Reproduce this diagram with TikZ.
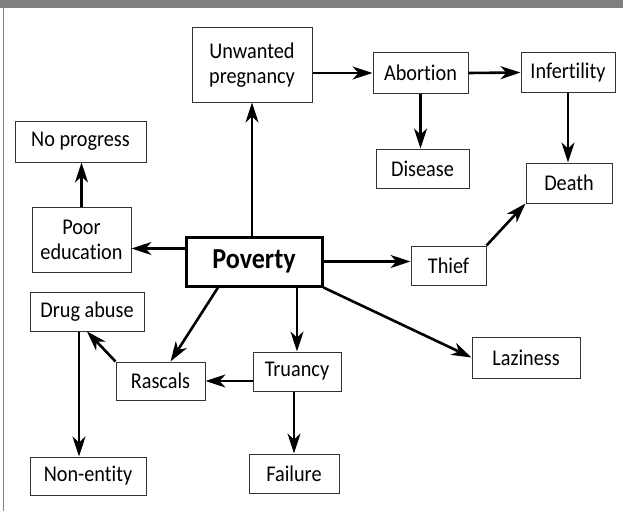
\documentclass[tikz,border=0pt]{standalone}
\usepackage{fontspec}
\setmainfont[Ligatures=NoCommon, FakeStretch=0.9]{Carlito}
\usetikzlibrary{arrows.meta}

\tikzset{
  box/.style={draw=black!80, line width=1pt, fill=white, inner sep=0pt, align=center,
    font=\fontsize{22.5}{25}\selectfont},
  arr/.style={-{Stealth[length=20pt,width=13pt,inset=6pt]}, line width=2.6pt, black}
}

\begin{document}
\begin{tikzpicture}[x=1pt,y=-1pt]
\useasboundingbox (0,0) rectangle (623,511);
\fill [black!50] (0,0) rectangle (623,8);
\draw [black!50, line width=1pt] (3,8) -- (3,511);

\node [box, minimum width=120, minimum height=74] (unwanted) at (252,65) {Unwanted\\pregnancy};
\node [box, minimum width=95, minimum height=40] (abortion) at (420.5,73) {Abortion};
\node [box, minimum width=94, minimum height=39] (infertility) at (568,72.5) {Infertility};
\node [box, minimum width=93, minimum height=39] (disease) at (422.5,168.5) {Disease};
\node [box, minimum width=86, minimum height=40] (death) at (569,183) {Death};
\node [box, minimum width=131, minimum height=41] (noprogress) at (80.5,141.5) {No progress};
\node [box, minimum width=99, minimum height=65] (pooredu) at (81.5,239.5) {Poor\\education};
\node [box, draw=black, line width=3pt, minimum width=136, minimum height=49,
  font=\fontsize{29}{32}\selectfont\bfseries] (poverty) at (254,261.5) {Poverty};
\node [box, minimum width=75, minimum height=39] (thief) at (448.5,265.5) {Thief};
\node [box, minimum width=114, minimum height=39] (drugabuse) at (87,311.5) {Drug abuse};
\node [box, minimum width=89, minimum height=38] (rascals) at (160.5,381) {Rascals};
\node [box, minimum width=88, minimum height=39] (truancy) at (297,371.5) {Truancy};
\node [box, minimum width=108, minimum height=41] (laziness) at (526,357.5) {Laziness};
\node [box, minimum width=116, minimum height=38] (nonentity) at (88,476) {Non-entity};
\node [box, minimum width=90, minimum height=39] (failure) at (294,473.5) {Failure};

\draw [arr] (unwanted.south |- poverty.north) -- (unwanted.south);
\draw [arr] (unwanted.east |- abortion.west) -- (abortion.west);
\draw [arr] (abortion.east) -- (infertility.west);
\draw [arr] (abortion.south) -- (abortion.south |- disease.north);
\draw [arr] (infertility.south) -- (infertility.south |- death.north);
\draw [arr] ([yshift=13pt]poverty.west) -- ([yshift=-9pt]pooredu.east);
\draw [arr] (pooredu.north) -- (pooredu.north |- noprogress.south);
\draw [arr] (poverty.east) -- (thief.west |- poverty.east);
\draw [arr] (thief.north east) -- (death.south west);
\draw [arr] (poverty.south east) -- (laziness.west);
\draw [arr] ([xshift=-36pt]poverty.south) -- ([xshift=10pt]rascals.north);
\draw [arr] (truancy.north |- poverty.south) -- (truancy.north);
\draw [arr] (truancy.west |- rascals.east) -- (rascals.east);
\draw [arr] (failure.north |- truancy.south) -- (failure.north);
\draw [arr] (rascals.north west) -- (drugabuse.south);
\draw [arr] ([xshift=-8pt]drugabuse.south) -- ([xshift=-9pt]nonentity.north);
\end{tikzpicture}
\end{document}
